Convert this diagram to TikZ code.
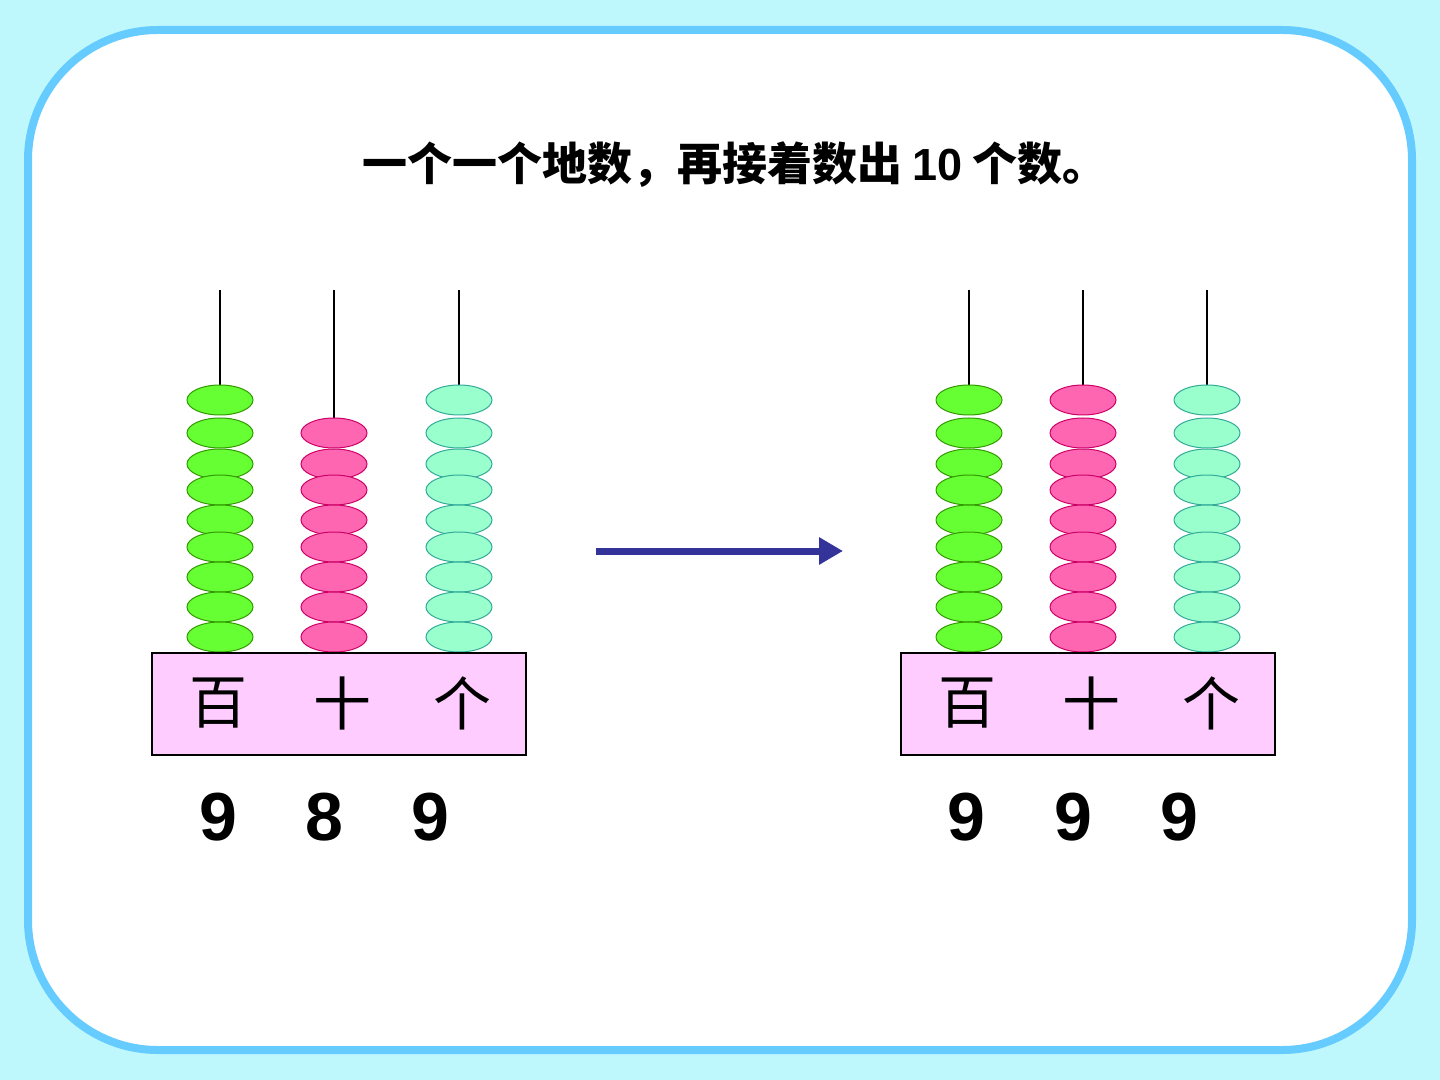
\documentclass[tikz,border=0pt]{standalone}
\usepackage{fontspec}
\setmainfont{Liberation Sans}
\newfontfamily\cjk{Noto Sans CJK SC}
\usetikzlibrary{shapes.geometric,arrows.meta}
\definecolor{bg}{HTML}{BFF8FC}
\definecolor{frame}{HTML}{66CCFF}
\definecolor{gfill}{HTML}{66FF33}\definecolor{gline}{HTML}{339900}
\definecolor{pfill}{HTML}{FF66B2}\definecolor{pline}{HTML}{CC0066}
\definecolor{afill}{HTML}{99FFCC}\definecolor{aline}{HTML}{33AA99}
\definecolor{boxfill}{HTML}{FFCCFF}
\definecolor{arr}{HTML}{333399}
\begin{document}
\begin{tikzpicture}[x=0.5pt,y=-0.5pt,
  bead/.style={ellipse,minimum width=33pt,minimum height=15pt,inner sep=0pt,line width=0.5pt},
  g/.style={bead,fill=gfill,draw=gline},
  p/.style={bead,fill=pfill,draw=pline},
  a/.style={bead,fill=afill,draw=aline},
  rod/.style={line width=1pt},
  lbl/.style={font=\cjk\fontsize{29}{29}\selectfont},
  dig/.style={font=\bfseries\fontsize{34}{34}\selectfont},
  box/.style={draw=black,fill=boxfill,line width=0.6pt}]
\fill[bg] (0,0) rectangle (1440,1080);
\useasboundingbox (0,0) rectangle (1440,1080);
\draw[frame,fill=white,line width=4pt,rounded corners=65pt] (28,30) rectangle (1412,1050);
\node (title) at (735,165) {\cjk\bfseries\fontsize{22.5}{22.5}\selectfont 一个一个地数，再接着数出 \textbf{\fontspec{Liberation Sans}10} 个数。};
% rods
\foreach \x/\t/\n in {220/400/l1,334/433/l2,459/400/l3,969/400/r1,1083/400/r2,1207/400/r3}
  {\coordinate (\n top) at (\x,290); \draw[rod] (\n top) -- (\x,\t);}
\foreach \y [count=\i] in {400,433,464,490,520,547,577,607,637}{
  \node[g] (lg\i) at (220,\y) {};
  \node[a] (la\i) at (459,\y) {};
  \node[g] (rg\i) at (969,\y) {};
  \node[p] (rp\i) at (1083,\y) {};
  \node[a] (ra\i) at (1207,\y) {};
}
\foreach \y [count=\i] in {433,464,490,520,547,577,607,637}
  \node[p] (lp\i) at (334,\y) {};
% boxes
\draw[box] (152,653) rectangle (526,755);
\draw[box] (901,653) rectangle (1275,755);
\node[lbl] (lb1) at (218,703) {百};
\node[lbl] (lb2) at (342,703) {十};
\node[lbl] (lb3) at (462,703) {个};
\node[lbl] (rb1) at (967,703) {百};
\node[lbl] (rb2) at (1091,703) {十};
\node[lbl] (rb3) at (1211,703) {个};
\node[dig] (ld1) at (218,817) {9};
\node[dig] (ld2) at (324,817) {8};
\node[dig] (ld3) at (430,817) {9};
\node[dig] (rd1) at (966,817) {9};
\node[dig] (rd2) at (1073,817) {9};
\node[dig] (rd3) at (1179,817) {9};
\coordinate (as) at (596,551);
\coordinate (ae) at (843,551);
\draw[arr,line width=3.5pt,-{Triangle[length=12pt,width=13pt]}] (as) -- (ae);
\end{tikzpicture}
\end{document}
